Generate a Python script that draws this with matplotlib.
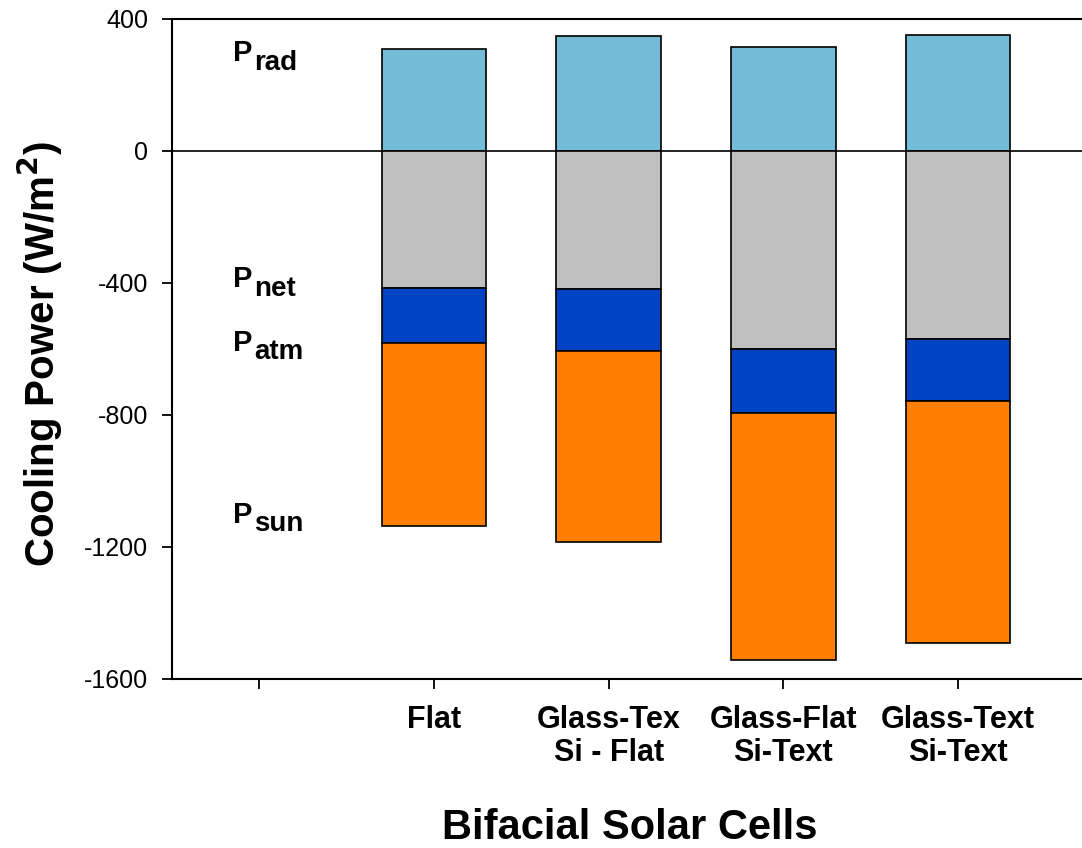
import matplotlib
matplotlib.use("Agg")
import matplotlib.pyplot as plt
import numpy as np

# values (W/m^2)
categories = ["Flat", "Glass-Tex\nSi - Flat", "Glass-Flat\nSi-Text", "Glass-Text\nSi-Text"]
p_rad = [309, 348, 315, 351]
p_net = [416, 419, 601, 571]
p_atm = [167, 188, 194, 188]
p_sun = [553, 577, 747, 732]

label_names = ["rad", "net", "atm", "sun"]
label_y = [272, -413, -605, -1127]

plt.rcParams["font.family"] = ["Liberation Sans", "DejaVu Sans"]
plt.rcParams["axes.unicode_minus"] = False

fig = plt.figure(figsize=(10.82, 8.48), dpi=100)
ax = fig.add_axes([172 / 1082, 1 - 679 / 848, 1 - 172 / 1082, 660 / 848])

x = np.arange(1, len(categories) + 1)
w = 0.6
edge = dict(edgecolor="black", linewidth=1.2)

net = np.array(p_net)
atm = np.array(p_atm)
sun = np.array(p_sun)

ax.bar(x, p_rad, w, color="#72BCD7", **edge, zorder=2)
ax.bar(x, -net, w, color="#C0C0C0", **edge, zorder=2)
ax.bar(x, -atm, w, bottom=-net, color="#0044C4", **edge, zorder=2)
ax.bar(x, -sun, w, bottom=-(net + atm), color="#FF8000", **edge, zorder=2)

ax.axhline(0, color="black", linewidth=1.2, zorder=1)

# P labels drawn as main letter + lowered subscript of similar size
for name, yv in zip(label_names, label_y):
    ax.text(-0.149, yv, "P", fontsize=21, fontweight="bold", va="baseline", ha="left")
    ax.annotate(name, xy=(-0.149, yv), xytext=(15, -6), textcoords="offset points",
                fontsize=20, fontweight="bold", va="baseline", ha="left")

ax.set_xlim(-0.5, 4.71)
ax.set_ylim(-1600, 400)
ax.set_yticks([400, 0, -400, -800, -1200, -1600])
ax.set_xticks([0] + list(x))
ax.set_xticklabels([""] + categories, fontsize=22, fontweight="bold", linespacing=1.12)
ax.tick_params(axis="y", labelsize=18, direction="out", length=7, width=1.3, pad=10)
ax.tick_params(axis="x", direction="out", length=7, width=1.3, pad=12)

for s in ["left", "bottom", "top"]:
    ax.spines[s].set_linewidth(1.5)
ax.spines["right"].set_visible(False)

ax.set_ylabel("Cooling Power (W/m$^\\mathbf{2}$)", fontsize=29, fontweight="bold")
ax.yaxis.set_label_coords(-0.145, 0.492)
ax.yaxis.label.set_va("center")
ax.set_xlabel("Bifacial Solar Cells", fontsize=30, fontweight="bold")
ax.xaxis.set_label_coords(0.503, -0.226)
ax.xaxis.label.set_va("center")

fig.savefig("out.png", dpi=100)
